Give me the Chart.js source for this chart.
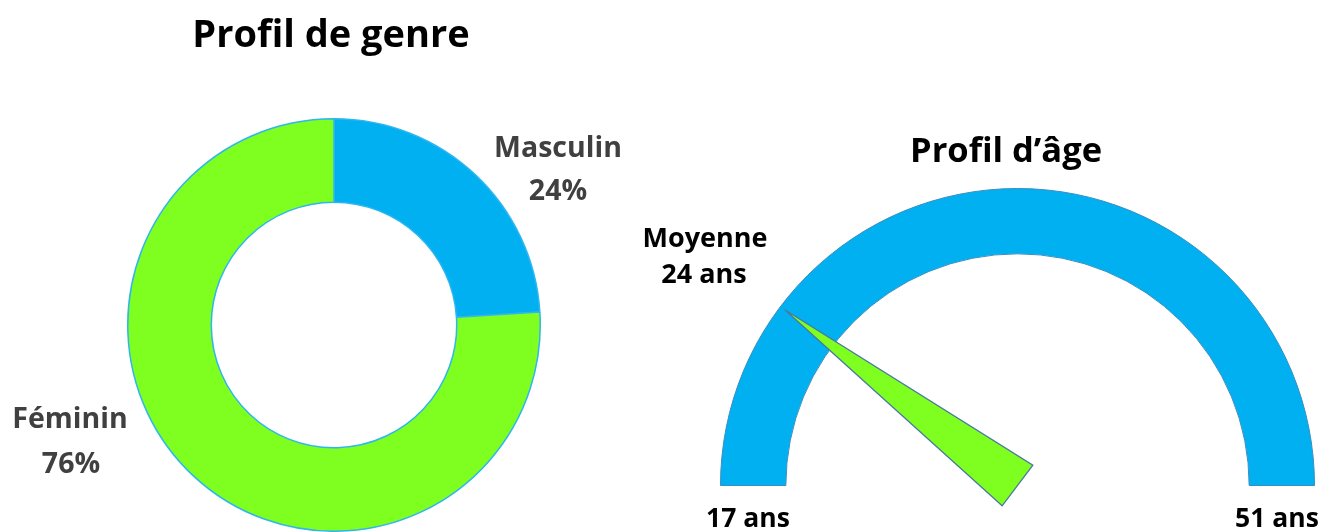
<!DOCTYPE html>
<html>
<head>
<meta charset="utf-8">
<script src="https://cdn.jsdelivr.net/npm/chart.js@4/dist/chart.umd.min.js"></script>
<style>
  html, body { margin: 0; padding: 0; background: #ffffff; }
  #wrap { position: relative; width: 1332px; height: 532px; overflow: hidden; }
  canvas { position: absolute; left: 0; top: 0; }
</style>
</head>
<body>
<div id="wrap">
  <canvas id="genre" width="1332" height="532"></canvas>
  <canvas id="age" width="1332" height="532"></canvas>
</div>
<script>
// ---- data ----
const genreTitle = 'Profil de genre';
const genreLabels = ['Masculin', 'Féminin'];
const genreValues = [24, 76];

const ageTitle = "Profil d\u2019âge";
const ageMin = 17;
const ageMax = 51;
const ageMean = 24;
const ageMeanLabel = 'Moyenne';
const ageUnit = 'ans';

// ---- styles ----
const BLUE = '#00b0f0';
const GREEN = '#7fff1f';
const FONT = '"Open Sans", "Noto Sans", sans-serif';

function drawText(ctx, txt, x, y, size, color) {
  ctx.save();
  ctx.font = '700 ' + size + 'px ' + FONT;
  ctx.fillStyle = color;
  ctx.textAlign = 'center';
  ctx.textBaseline = 'alphabetic';
  ctx.fillText(txt, x, y);
  ctx.restore();
}

const genreText = {
  id: 'genreText',
  afterDraw(chart) {
    const ctx = chart.ctx;
    drawText(ctx, genreTitle, 331, 47, 38, '#000000');
    drawText(ctx, genreLabels[0], 558, 157, 28.5, '#404040');
    drawText(ctx, genreValues[0] + '%', 558, 200, 28.5, '#404040');
    drawText(ctx, genreLabels[1], 70, 428, 28.5, '#404040');
    drawText(ctx, genreValues[1] + '%', 71, 473, 28.5, '#404040');
  }
};

new Chart(document.getElementById('genre'), {
  type: 'doughnut',
  data: {
    labels: genreLabels,
    datasets: [{
      data: genreValues,
      backgroundColor: [BLUE, GREEN],
      borderColor: '#2db6ef',
      borderWidth: 1.5
    }]
  },
  options: {
    responsive: false,
    animation: false,
    cutout: '59.5%',
    rotation: 0,
    layout: { padding: { left: 126, right: 790, top: 118, bottom: 0 } },
    plugins: { legend: { display: false }, tooltip: { enabled: false }, title: { display: false } },
    events: []
  },
  plugins: [genreText]
});

const gaugeExtras = {
  id: 'gaugeExtras',
  afterDatasetsDraw(chart) {
    const ctx = chart.ctx;
    const arc = chart.getDatasetMeta(0).data[0];
    const p = arc.getProps(['x', 'y', 'startAngle', 'endAngle', 'outerRadius'], true);
    const a = p.startAngle + (ageMean - ageMin) / (ageMax - ageMin) * (p.endAngle - p.startAngle);
    const len = p.outerRadius * 0.982;
    const half = 25.5;
    const tx = p.x + Math.cos(a) * len, ty = p.y + Math.sin(a) * len;
    const px = -Math.sin(a), py = Math.cos(a);
    ctx.save();
    ctx.beginPath();
    ctx.moveTo(tx, ty);
    ctx.lineTo(p.x + px * half, p.y + py * half);
    ctx.lineTo(p.x - px * half, p.y - py * half);
    ctx.closePath();
    ctx.fillStyle = GREEN;
    ctx.fill();
    ctx.lineWidth = 1.3;
    ctx.strokeStyle = '#4a78a0';
    ctx.lineJoin = 'miter';
    ctx.stroke();
    ctx.restore();
  },
  afterDraw(chart) {
    const ctx = chart.ctx;
    drawText(ctx, ageTitle, 1006, 162, 34.5, '#000000');
    drawText(ctx, ageMeanLabel, 705, 247, 27, '#000000');
    drawText(ctx, ageMean + ' ' + ageUnit, 704, 283, 27, '#000000');
    drawText(ctx, ageMin + ' ' + ageUnit, 748, 527, 26.5, '#000000');
    drawText(ctx, ageMax + ' ' + ageUnit, 1277, 527, 26.5, '#000000');
  }
};

new Chart(document.getElementById('age'), {
  type: 'doughnut',
  data: {
    labels: [ageMin + '–' + ageMax],
    datasets: [{
      data: [ageMax - ageMin],
      backgroundColor: [BLUE],
      borderColor: '#3a8ec0',
      borderWidth: 1
    }]
  },
  options: {
    responsive: false,
    animation: false,
    cutout: '78%',
    rotation: -90,
    circumference: 180,
    layout: { padding: { left: 720, right: 17, top: 188, bottom: 46 } },
    plugins: { legend: { display: false }, tooltip: { enabled: false }, title: { display: false } },
    events: []
  },
  plugins: [gaugeExtras]
});
</script>
</body>
</html>
